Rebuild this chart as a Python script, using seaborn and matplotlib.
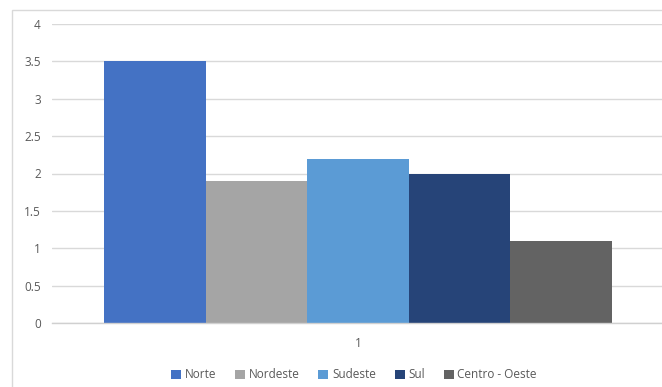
import matplotlib
matplotlib.use("Agg")
import matplotlib.pyplot as plt
import seaborn as sns
import pandas as pd
from matplotlib.patches import Rectangle

categorias = ["1"]
regioes = ["Norte", "Nordeste", "Sudeste", "Sul", "Centro - Oeste"]
valores = [3.5, 1.9, 2.2, 2.0, 1.1]
cores = ["#4472C4", "#A5A5A5", "#5B9BD5", "#264478", "#636363"]
yticks = [0, 0.5, 1, 1.5, 2, 2.5, 3, 3.5, 4]
ytick_labels = ["0", "0.5", "1", "1.5", "2", "2.5", "3", "3.5", "4"]

df = pd.DataFrame({
    "grupo": categorias * len(regioes),
    "regiao": regioes,
    "valor": valores,
})

sns.set_theme(style="white")
plt.rcParams["font.family"] = ["Open Sans", "DejaVu Sans"]

fig = plt.figure(figsize=(6.62, 3.87), dpi=100)
ax = fig.add_axes([52 / 662, 1 - 323 / 387, 612 / 662, (323 - 24) / 387])

sns.barplot(data=df, x="grupo", y="valor", hue="regiao", hue_order=regioes,
            palette=cores, saturation=1, width=0.83, linewidth=0, ax=ax,
            legend=False)

ax.set_ylim(0, 4)
ax.set_xlim(-0.5, 0.5)
ax.set_yticks(yticks)
ax.set_yticklabels(ytick_labels)
ax.yaxis.grid(True, color="#D9D9D9", linewidth=1)
ax.set_axisbelow(True)
for s in ["top", "right", "left"]:
    ax.spines[s].set_visible(False)
ax.spines["bottom"].set_color("#D0D0D0")
ax.spines["bottom"].set_linewidth(1)
ax.tick_params(axis="y", length=0, pad=8, labelsize=8.5, labelcolor="#595959")
ax.tick_params(axis="x", length=0, pad=10, labelsize=8.5, labelcolor="#595959")
ax.set_xlabel("")
ax.set_ylabel("")

# chart area border
fig.patches.append(Rectangle((12 / 662, -0.01), 1.0, 1 - 10 / 387 + 0.01,
                             transform=fig.transFigure, fill=False,
                             edgecolor="#D9D9D9", linewidth=1))

handles = [Rectangle((0, 0), 1, 1, facecolor=c, edgecolor="none") for c in cores]
fig.legend(handles, regioes, loc="center", bbox_to_anchor=(354 / 662, 1 - 375 / 387),
           ncol=5, frameon=False, fontsize=8.5, handlelength=0.85, handleheight=0.85,
           handletextpad=0.3, columnspacing=1.6, labelcolor="#595959")

fig.savefig("out.png", dpi=100, facecolor="white")
